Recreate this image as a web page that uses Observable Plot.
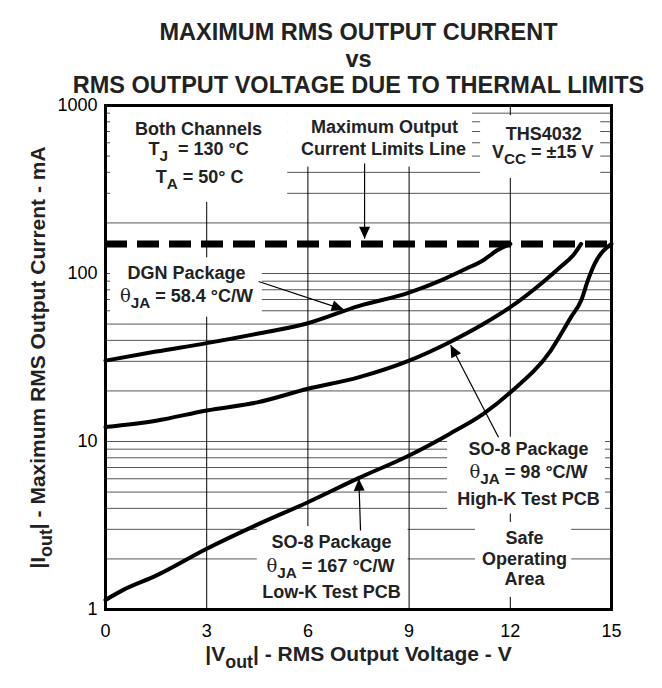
<!DOCTYPE html>
<html><head><meta charset="utf-8">
<script src="https://cdn.jsdelivr.net/npm/d3@7"></script>
<script src="https://cdn.jsdelivr.net/npm/@observablehq/plot@0.6"></script>
<style>body{margin:0;background:#fff}</style>
</head><body><div id="chart"></div>
<script>
// ---- text ----
const titleLines = ["MAXIMUM RMS OUTPUT CURRENT", "vs", "RMS OUTPUT VOLTAGE DUE TO THERMAL LIMITS"];
const xLabel = "|V_{out}| - RMS Output Voltage - V";
const yLabel = "|I_{out}| - Maximum RMS Output Current - mA";

// ---- axes ----
const xTicks = [0, 3, 6, 9, 12, 15];
const yTicks = [1, 10, 100, 1000];
const xGrid = [3, 6, 9, 12];
const yGrid = [2, 3, 4, 5, 6, 7, 8, 9, 10, 20, 30, 40, 50, 60, 70, 80, 90, 100, 200, 300, 400, 500, 600, 700, 800, 900];

// ---- series (V, mA) ----
const currentLimit = 150;
const dgnV = [0, 1.5, 3, 4.5, 6, 7.5, 9, 10, 10.7, 11.2, 11.6, 12];
const dgnI = [30.3, 34.3, 38.5, 43.8, 50.6, 64, 77, 92, 107, 120, 137, 150];
const hiKV = [0, 1.5, 3, 4.5, 6, 7.5, 9, 10.2, 11.2, 12, 13, 13.5, 13.9, 14.1];
const hiKI = [12.2, 13.3, 15.3, 17.1, 20.6, 24.1, 30.3, 39, 50, 63, 90, 110, 131, 150];
const loKV = [0, 0.5, 1.5, 3, 4.5, 6, 7.5, 9, 10.2, 11.2, 12, 13.2, 13.8, 14.1, 14.3, 14.5, 15];
const loKI = [1.14, 1.30, 1.59, 2.3, 3.2, 4.35, 6.05, 8.26, 11.1, 14.6, 19.6, 34.8, 55, 69, 91, 114, 150];

// ---- annotations (data coordinates: V, mA) ----
const noteText = ["Both Channels", "T_{J}  = 130 °C", "T_{A} = 50° C",
  "Maximum Output", "Current Limits Line",
  "THS4032", "V_{CC} = ±15 V",
  "DGN Package", "θ_{JA} = 58.4 °C/W",
  "SO-8 Package", "θ_{JA} = 98 °C/W", "High-K Test PCB",
  "Safe", "Operating", "Area",
  "SO-8 Package", "θ_{JA} = 167 °C/W", "Low-K Test PCB"];
const noteV = [2.76, 2.76, 2.79, 8.27, 8.24, 12.99, 12.96, 2.40, 2.40, 12.54, 12.54, 12.54, 12.42, 12.42, 12.42, 6.70, 6.67, 6.70];
const noteI = [718, 546, 372, 738, 546, 679, 524, 101, 72.8, 8.94, 6.52, 4.51, 2.67, 1.98, 1.52, 2.50, 1.80, 1.26];

// label background boxes (V range, mA range)
const boxV1 = [0.15, 5.40, 11.12, 0.15, 10.14, 10.97, 4.5];
const boxV2 = [5.40, 10.88, 14.68, 4.65, 14.82, 13.82, 8.97];
const boxI1 = [265, 430, 368, 55, 3.7, 1.18, 1];
const boxI2 = [1000, 1000, 870, 124, 10.6, 3.3, 3.12];

// arrows (from -> to)
const arrV1 = [7.68, 4.54, 11.65, 7.56];
const arrI1 = [452, 89.6, 10.6, 2.95];
const arrV2 = [7.68, 7.06, 10.23, 7.51];
const arrI2 = [161, 61, 37.5, 6.0];

// ---- tables ----
const series = [
  ...dgnV.map((v, i) => ({s: "DGN", v, i: dgnI[i]})),
  ...hiKV.map((v, i) => ({s: "HiK", v, i: hiKI[i]})),
  ...loKV.map((v, i) => ({s: "LoK", v, i: loKI[i]}))
];
const notes = noteText.map((t, k) => ({t, v: noteV[k], i: noteI[k]}));
const boxes = boxV1.map((v, k) => ({x1: v, x2: boxV2[k], y1: boxI1[k], y2: boxI2[k]}));
const arrows = arrV1.map((v, k) => ({x1: v, y1: arrI1[k], x2: arrV2[k], y2: arrI2[k]}));

const FONT = "'Liberation Sans', Arial, Helvetica, sans-serif";

function arrowRender(index, scales, values, dimensions, context, next) {
  const g = next(index, scales, values, dimensions, context);
  const X1 = values.x1, Y1 = values.y1, X2 = values.x2, Y2 = values.y2;
  for (const i of index) {
    const a = Math.atan2(Y2[i] - Y1[i], X2[i] - X1[i]);
    const L = 12, W = 5.5;
    const bx = X2[i] - L * Math.cos(a), by = Y2[i] - L * Math.sin(a);
    const px = -Math.sin(a) * W, py = Math.cos(a) * W;
    d3.select(g).append("path")
      .attr("d", `M${X2[i]},${Y2[i]}L${bx + px},${by + py}L${bx - px},${by - py}Z`)
      .attr("fill", "black").attr("stroke", "none");
  }
  return g;
}

const chart = Plot.plot({
  width: 662, height: 688,
  marginLeft: 105, marginRight: 51, marginTop: 105, marginBottom: 79,
  x: {domain: [0, 15]},
  y: {type: "log", domain: [1, 1000]},
  style: {fontFamily: FONT, fontSize: "18px", color: "#000", background: "#fff", overflow: "visible"},
  marks: [
    Plot.ruleY(yGrid, {stroke: "#555", strokeWidth: 1}),
    Plot.ruleX(xGrid, {stroke: "#000", strokeWidth: 1}),
    Plot.rect(boxes, {x1: "x1", x2: "x2", y1: "y1", y2: "y2", fill: "white"}),
    Plot.line(series, {x: "v", y: "i", z: "s", stroke: "black", strokeWidth: 4, curve: "monotone-x"}),
    Plot.ruleY([currentLimit], {stroke: "black", strokeWidth: 7, strokeDasharray: "22 10"}),
    Plot.link(arrows, {x1: "x1", y1: "y1", x2: "x2", y2: "y2", stroke: "black", strokeWidth: 1.2, render: arrowRender}),
    Plot.text(notes, {x: "v", y: "i", text: "t", fontSize: 18, fontWeight: "bold", textAnchor: "middle", lineAnchor: "middle", fill: "#222"}),
    Plot.frame({stroke: "black", strokeWidth: 3}),
    Plot.axisX({ticks: xTicks, tickSize: 0, tickPadding: 15, fontSize: 18, label: null, tickFormat: d => String(d)}),
    Plot.axisY({ticks: yTicks, tickSize: 0, tickPadding: 8, fontSize: 18, label: null, tickFormat: d => String(d)}),
    Plot.text([xLabel], {text: d => d, frameAnchor: "bottom", dy: 51, fontSize: 21, fontWeight: "bold", fill: "#222", textAnchor: "middle"}),
    Plot.text([yLabel], {text: d => d, frameAnchor: "left", dx: -67, rotate: -90, fontSize: 21, fontWeight: "bold", fill: "#222", textAnchor: "middle", lineAnchor: "middle"}),
    Plot.text([titleLines[0]], {text: d => d, frameAnchor: "top", dy: -82.5, fontSize: 23.5, fontWeight: "bold", fill: "#222"}),
    Plot.text([titleLines[1]], {text: d => d, frameAnchor: "top", dy: -55.5, fontSize: 23.5, fontWeight: "bold", fill: "#222"}),
    Plot.text([titleLines[2]], {text: d => d, frameAnchor: "top", dy: -29.5, fontSize: 23.5, fontWeight: "bold", fill: "#222"})
  ]
});

function richText(root) {
  root.querySelectorAll("text").forEach(el => {
    if (el.querySelector("tspan")) return;
    const s = el.textContent;
    if (!/_\{|θ/.test(s)) return;
    while (el.firstChild) el.removeChild(el.firstChild);
    for (const p of s.split(/(_\{[^}]*\}|θ)/)) {
      if (!p) continue;
      const ts = document.createElementNS("http://www.w3.org/2000/svg", "tspan");
      if (p.startsWith("_{")) {
        ts.textContent = p.slice(2, -1);
        ts.setAttribute("font-size", "85%");
        ts.setAttribute("baseline-shift", "-0.42em");
      } else if (p === "θ") {
        ts.textContent = p;
        ts.setAttribute("font-family", "'DejaVu Serif', 'Liberation Serif', serif");
        ts.setAttribute("font-weight", "normal");
      } else {
        ts.textContent = p;
      }
      el.appendChild(ts);
    }
  });
}
richText(chart);
document.getElementById("chart").appendChild(chart);
</script>
</body></html>
